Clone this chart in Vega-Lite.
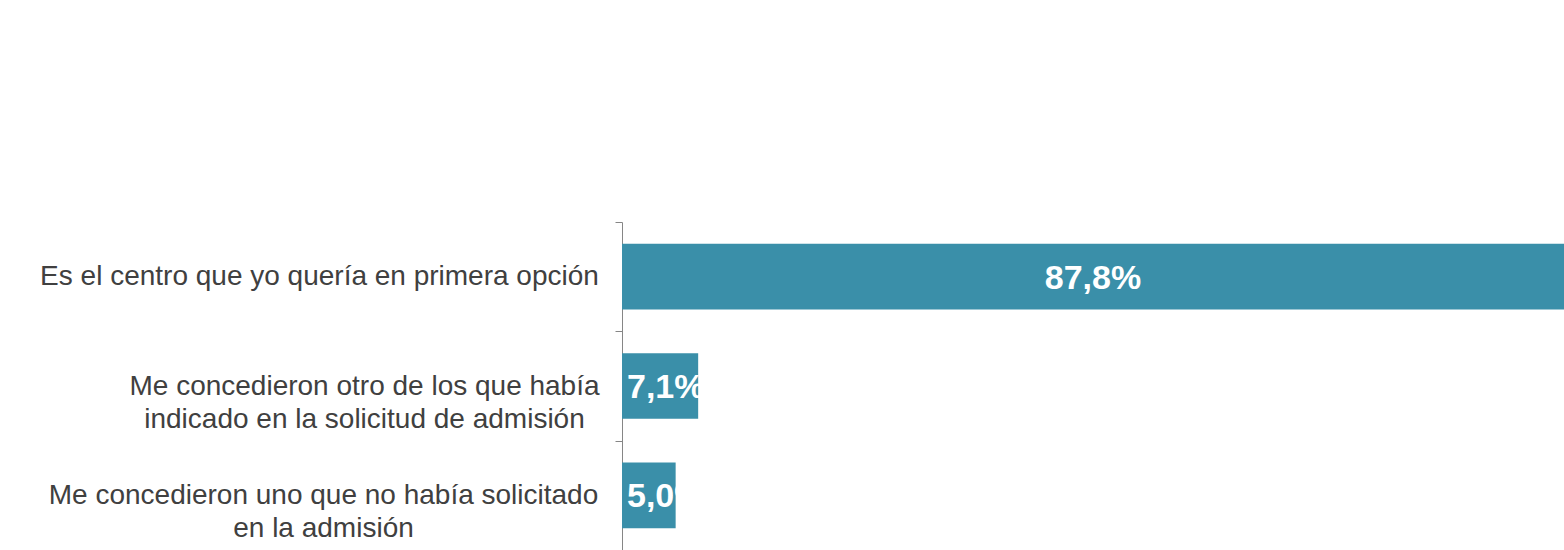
{
  "$schema": "https://vega.github.io/schema/vega-lite/v6.json",
  "width": 942,
  "height": 328,
  "autosize": {"type": "none"},
  "padding": {"left": 622, "top": 222, "right": 0, "bottom": 0},
  "background": "white",
  "config": {
    "view": {"stroke": null},
    "locale": {"number": {"decimal": ",", "thousands": ".", "grouping": [3], "currency": ["", " €"]}}
  },
  "data": {
    "values": [
      {"respuesta": "Es el centro que yo quería en primera opción", "pct": 0.878},
      {"respuesta": "Me concedieron otro de los que había\nindicado en la solicitud de admisión", "pct": 0.071},
      {"respuesta": "Me concedieron uno que no había solicitado\nen la admisión", "pct": 0.050}
    ]
  },
  "encoding": {
    "y": {
      "field": "respuesta",
      "type": "nominal",
      "sort": null,
      "scale": {"paddingInner": 0.4, "paddingOuter": 0.2},
      "axis": {
        "title": null,
        "labelExpr": "split(datum.label, '\\n')",
        "labelFont": "Liberation Sans",
        "labelFontSize": 28,
        "labelColor": "#404040",
        "labelLineHeight": 33,
        "labelAlign": "center",
        "labelBaseline": "middle",
        "labelPadding": {"expr": "indexof(datum.value, 'otro') >= 0 ? 251 : (indexof(datum.value, 'primera') >= 0 ? 296 : 292)"},
        "labelLimit": 0,
        "tickSize": 7,
        "tickOffset": -54.67,
        "labelOffset": 54.67,
        "tickColor": "#868686",
        "domainColor": "#868686"
      }
    }
  },
  "layer": [
    {
      "mark": {"type": "bar", "color": "#3A8FA9"},
      "encoding": {
        "x": {"field": "pct", "type": "quantitative", "scale": {"domain": [0, 0.878], "nice": false, "zero": true}, "axis": null}
      }
    },
    {
      "transform": [{"filter": "datum.pct > 0.2"}, {"calculate": "datum.pct / 2", "as": "mid"}],
      "mark": {"type": "text", "align": "center", "baseline": "middle", "dy": 2, "font": "Liberation Sans", "fontWeight": "bold", "fontSize": 34, "color": "white"},
      "encoding": {
        "x": {"field": "mid", "type": "quantitative"},
        "text": {"field": "pct", "type": "quantitative", "format": ".1%"}
      }
    },
    {
      "transform": [{"filter": "datum.pct <= 0.2"}],
      "mark": {"type": "text", "align": "left", "baseline": "middle", "dx": 5, "dy": 2, "font": "Liberation Sans", "fontWeight": "bold", "fontSize": 34, "color": "white"},
      "encoding": {
        "x": {"datum": 0, "type": "quantitative"},
        "text": {"field": "pct", "type": "quantitative", "format": ".1%"}
      }
    }
  ]
}
